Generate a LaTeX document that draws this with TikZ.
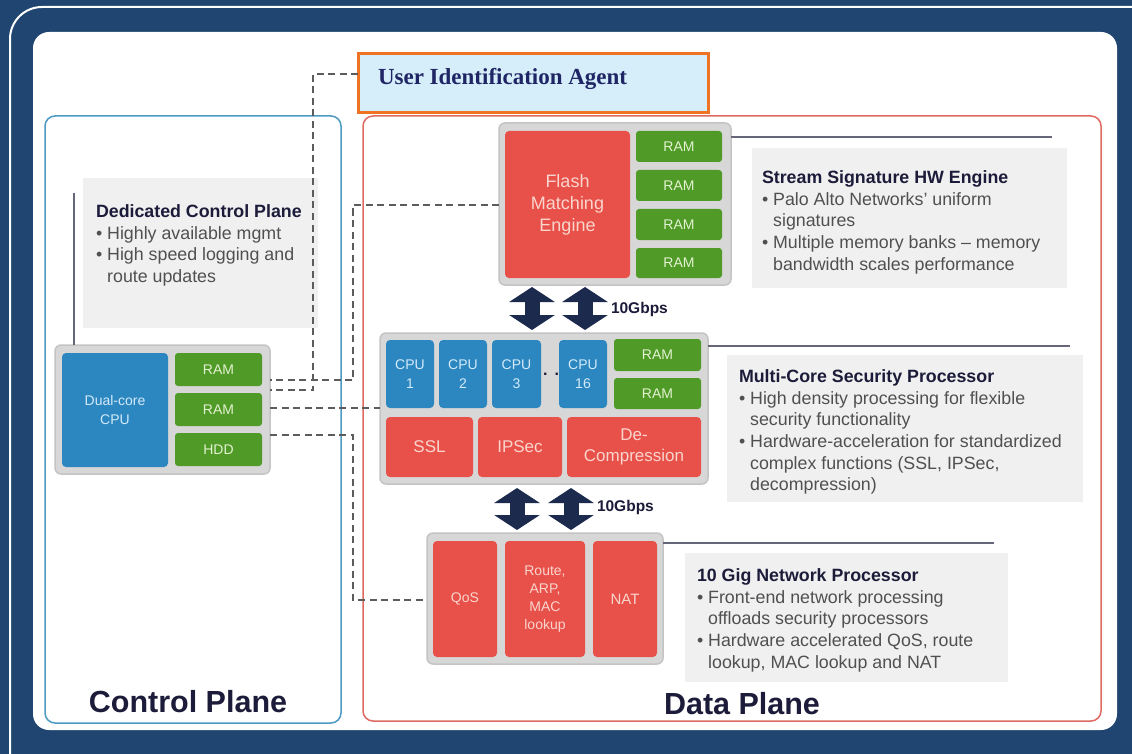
\documentclass[tikz,border=0pt]{standalone}
\usepackage{fontspec}
\setmainfont{Liberation Sans}
\newfontfamily\serifbold{Liberation Serif}
\usetikzlibrary{arrows.meta}

\definecolor{navybg}{HTML}{1F4570}
\definecolor{cpline}{HTML}{4C9AC2}
\definecolor{dpline}{HTML}{E06A62}
\definecolor{uiafill}{HTML}{D5EEF9}
\definecolor{uiadraw}{HTML}{EE7424}
\definecolor{uiatext}{HTML}{1F2565}
\definecolor{modfill}{HTML}{D7D7D7}
\definecolor{moddraw}{HTML}{C4C4C4}
\definecolor{redblk}{HTML}{E8514A}
\definecolor{greenblk}{HTML}{509A28}
\definecolor{blueblk}{HTML}{2C87C1}
\definecolor{redtxt}{HTML}{F9D5CD}
\definecolor{greentxt}{HTML}{E3F2D0}
\definecolor{bluetxt}{HTML}{D3EAF8}
\definecolor{txtfill}{HTML}{F0F0F0}
\definecolor{ttl}{HTML}{1C1C3A}
\definecolor{bodytxt}{HTML}{505050}
\definecolor{dashc}{HTML}{5C5C5C}
\definecolor{arrowc}{HTML}{1B2A4D}
\definecolor{leaderc}{HTML}{66667A}

\newcommand\fs[2]{\fontsize{#1}{#2}\selectfont}
\newcommand\itm{\textbullet\ }
\newcommand\cnt{\hphantom{\textbullet\ }}
% block given by its corners: name, style, x1, y1, x2, y2, text
\newcommand\blk[7]{\node[#2,minimum width={#5-#3},minimum height={#6-#4}] (#1) at ({(#3+#5)/2},{(#4+#6)/2}) {#7};}

\begin{document}
\begin{tikzpicture}[x=1pt,y=-1pt,
  every node/.style={inner sep=0pt,outer sep=0pt},
  plane/.style={line width=1.5pt,rounded corners=10pt},
  module/.style={fill=modfill,draw=moddraw,line width=1.5pt,rounded corners=6pt},
  redb/.style={fill=redblk,rounded corners=4pt,text=redtxt,align=center},
  greenb/.style={fill=greenblk,rounded corners=3pt,text=greentxt,align=center,font=\fs{14}{16}},
  blueb/.style={fill=blueblk,rounded corners=4pt,text=bluetxt,align=center,font=\fs{14}{19}},
  txtbox/.style={fill=txtfill},
  desc/.style={anchor=north west,align=left,text=bodytxt,font=\fs{17.8}{21.7}},
  dashln/.style={draw=dashc,line width=2.4pt,dash pattern=on 7pt off 4.5pt},
  leader/.style={draw=leaderc,line width=1.5pt},
  bus/.style={draw=arrowc,line width=15pt,{Triangle[length=15pt,width=45pt]}-{Triangle[length=15pt,width=45pt]}},
  rate/.style={anchor=west,text=ttl,font=\fs{15.5}{18}\bfseries},
  planelabel/.style={text=ttl,font=\fs{30.5}{34}\bfseries}]
\useasboundingbox (0,0) rectangle (1132,754);

% frame
\fill[navybg] (0,0) rectangle (1132,754);
\draw[white,line width=2pt,rounded corners=32pt] (10,7) rectangle (1170,790);
\fill[white,rounded corners=16pt] (33,32) rectangle (1117,730);

% planes
\blk{cplane}{draw=cpline,plane}{45}{116}{341}{723}{}
\blk{dplane}{draw=dpline,plane}{363}{116}{1101}{721}{}
\node[planelabel] (cplabel) at (188,702) {Control Plane};
\node[planelabel] (dplabel) at (742,704) {Data Plane};

% user identification agent
\blk{uia}{fill=uiafill,draw=uiadraw,line width=3pt}{358}{54}{708}{113}{}
\node[anchor=west,text=uiatext,font=\serifbold\fs{23}{26}\bfseries] (uialabel) at (378,79) {User Identification Agent};

% control plane hardware
\blk{cpubox}{txtbox}{83}{178}{318}{328}{}
\node[desc] (cputxt) at (96,204.5) {{\color{ttl}\bfseries Dedicated Control Plane}\\
\itm Highly available mgmt\\
\itm High speed logging and\\
\cnt route updates};
\blk{cpumod}{module}{55}{345}{270}{474}{}
\blk{dualcpu}{blueb}{62}{353}{168}{467}{Dual-core\\CPU}
\blk{cram1}{greenb}{175}{353}{262}{386}{RAM}
\blk{cram2}{greenb}{175}{393}{262}{426}{RAM}
\blk{hdd}{greenb}{175}{433}{262}{466}{HDD}
\coordinate (cpuleadtop) at (74,193);
\draw[leader] (cpuleadtop) -- (cpumod.north -| cpuleadtop);

% flash matching engine
\blk{flashmod}{module}{499}{123}{731}{285}{}
\blk{fme}{redb,font=\fs{18}{22}}{505}{131}{630}{278}{Flash\\Matching\\Engine}
\blk{fram1}{greenb}{636}{131}{722}{162}{RAM}
\blk{fram2}{greenb}{636}{170}{722}{201}{RAM}
\blk{fram3}{greenb}{636}{209}{722}{240}{RAM}
\blk{fram4}{greenb}{636}{248}{722}{278}{RAM}
\coordinate (flashlead) at (1052,137);
\draw[leader] (flashmod.east |- flashlead) -- (flashlead);
\blk{flashbox}{txtbox}{752}{148}{1067}{288}{}
\node[desc] (flashtxt) at (762,170.5) {{\color{ttl}\bfseries Stream Signature HW Engine}\\
\itm Palo Alto Networks' uniform\\
\cnt signatures\\
\itm Multiple memory banks -- memory\\
\cnt bandwidth scales performance};

% multi-core security processor
\blk{mcmod}{module}{380}{333}{708}{484}{}
\blk{cpu1}{blueb}{386}{340}{434}{408}{CPU\\1}
\blk{cpu2}{blueb}{439}{340}{487}{408}{CPU\\2}
\blk{cpu3}{blueb}{492}{340}{541}{408}{CPU\\3}
\node[text=ttl,font=\fs{16}{18}\bfseries] (cpudots) at (551,374) {.\hspace{7pt}.};
\blk{cpu16}{blueb}{559}{340}{607}{408}{CPU\\16}
\blk{mram1}{greenb}{614}{339}{701}{371}{RAM}
\blk{mram2}{greenb}{614}{378}{701}{409}{RAM}
\blk{ssl}{redb,font=\fs{17}{21}}{386}{417}{473}{477}{SSL}
\blk{ipsec}{redb,font=\fs{17}{21}}{478}{417}{562}{477}{IPSec}
\blk{decomp}{redb,font=\fs{17}{21}}{567}{417}{701}{477}{De-\\Compression}
\coordinate (mclead) at (1070,346);
\draw[leader] (mcmod.east |- mclead) -- (mclead);
\blk{mcbox}{txtbox}{727}{355}{1083}{502}{}
\node[desc] (mctxt) at (739,369.5) {{\color{ttl}\bfseries Multi-Core Security Processor}\\
\itm High density processing for flexible\\
\cnt security functionality\\
\itm Hardware-acceleration for standardized\\
\cnt complex functions (SSL, IPSec,\\
\cnt decompression)};

% 10 gig network processor
\blk{netmod}{module}{427}{533}{663}{664}{}
\blk{qos}{redb,font=\fs{14}{18}}{433}{541}{497}{657}{QoS}
\blk{route}{redb,font=\fs{14}{18}}{505}{541}{585}{657}{Route,\\ARP,\\MAC\\lookup}
\blk{nat}{redb,font=\fs{15}{18}}{593}{541}{657}{657}{NAT}
\coordinate (netlead) at (994,543);
\draw[leader] (netmod.east |- netlead) -- (netlead);
\blk{netbox}{txtbox}{685}{553}{1008}{682}{}
\node[desc] (nettxt) at (697,568.5) {{\color{ttl}\bfseries 10 Gig Network Processor}\\
\itm Front-end network processing\\
\cnt offloads security processors\\
\itm Hardware accelerated QoS, route\\
\cnt lookup, MAC lookup and NAT};

% 10 Gbps buses
\coordinate (busa) at (532,0);
\coordinate (busb) at (585,0);
\coordinate (busc) at (517,0);
\coordinate (busd) at (571,0);
\draw[bus,shorten <=2pt,shorten >=3pt] (flashmod.south -| busa) -- (mcmod.north -| busa);
\draw[bus,shorten <=2pt,shorten >=3pt] (flashmod.south -| busb) -- (mcmod.north -| busb);
\node[rate] (rate1) at (611,309) {10Gbps};
\draw[bus,shorten <=4pt,shorten >=3pt] (mcmod.south -| busc) -- (netmod.north -| busc);
\draw[bus,shorten <=4pt,shorten >=3pt] (mcmod.south -| busd) -- (netmod.north -| busd);
\node[rate] (rate2) at (597,507) {10Gbps};

% management links into the data plane
\coordinate (uiabend) at (313,74);
\coordinate (flashbend) at (353,205);
\coordinate (hddbend) at (353,435);
\draw[dashln] (uia.west |- uiabend) -- (uiabend) |- (cpumod.east |- 0,390);
\draw[dashln] (flashmod.west |- flashbend) -- (flashbend) |- (cpumod.east |- 0,380);
\draw[dashln] (cpumod.east |- 0,408) -- (mcmod.west |- 0,408);
\draw[dashln] (cpumod.east |- hddbend) -- (hddbend) |- (netmod.west |- 0,600);
\end{tikzpicture}
\end{document}
